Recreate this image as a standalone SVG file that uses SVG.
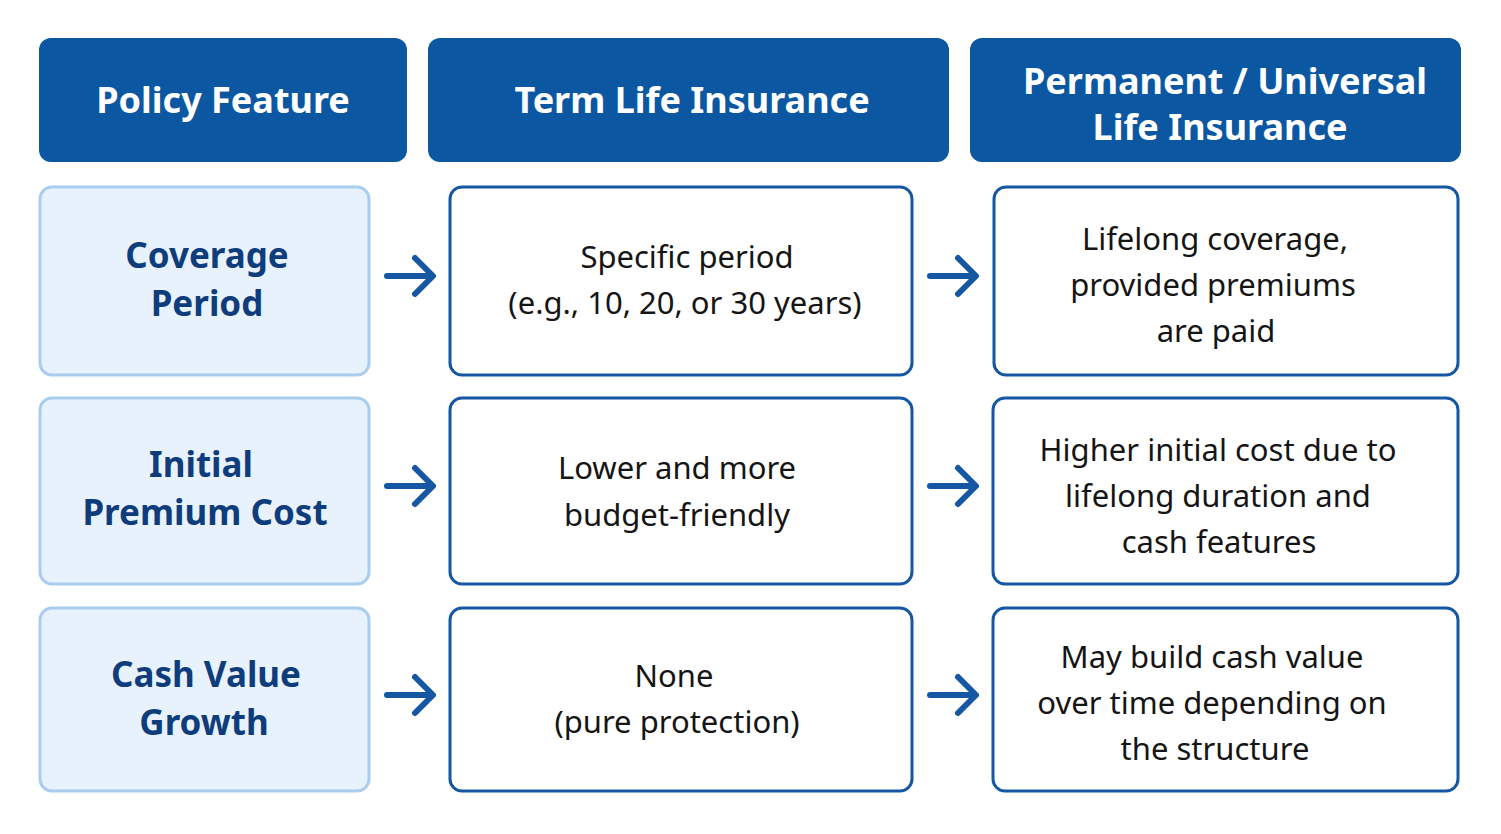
<svg xmlns="http://www.w3.org/2000/svg" width="1501" height="834" viewBox="0 0 1501 834">
<defs>
<style>
.hd{fill:#0b57a2}
.ht{fill:#fff;font-family:"Noto Sans",sans-serif;font-weight:bold;font-size:36px;text-anchor:middle}
.fb{fill:#e8f2fc;stroke:#a8cdee;stroke-width:3}
.ft{fill:#0f3d7c;font-family:"Noto Sans",sans-serif;font-weight:bold;font-size:35px;text-anchor:middle}
.vb{fill:#fff;stroke:#1557a3;stroke-width:3}
.vt{fill:#151515;font-family:"Noto Sans",sans-serif;font-size:31px;text-anchor:middle}
.ar{fill:none;stroke:#1557a3;stroke-width:6;stroke-linecap:round;stroke-linejoin:round}
</style>
</defs>
<rect width="1501" height="834" fill="#fff"/>
<g id="h1"><rect class="hd" x="39" y="38" width="368" height="124" rx="12"/><text class="ht" x="223" y="113">Policy Feature</text></g>
<g id="h2"><rect class="hd" x="428" y="38" width="521" height="124" rx="12"/><text class="ht" x="692" y="113">Term Life Insurance</text></g>
<g id="h3"><rect class="hd" x="970" y="38" width="491" height="124" rx="12"/><text class="ht" x="1225" y="94">Permanent / Universal</text><text class="ht" x="1220" y="140">Life Insurance</text></g>

<g id="f1"><rect class="fb" x="40" y="187" width="329" height="188" rx="12"/><text class="ft" x="207" y="268">Coverage</text><text class="ft" x="207" y="316">Period</text></g>
<g id="f2"><rect class="fb" x="40" y="398" width="329" height="186" rx="12"/><text class="ft" x="201" y="477">Initial</text><text class="ft" x="205" y="525">Premium Cost</text></g>
<g id="f3"><rect class="fb" x="40" y="608" width="329" height="183" rx="12"/><text class="ft" x="206" y="687">Cash Value</text><text class="ft" x="204" y="735">Growth</text></g>

<g id="t1"><rect class="vb" x="450" y="187" width="462" height="188" rx="12"/><text class="vt" x="687" y="268">Specific period</text><text class="vt" x="685" y="314">(e.g., 10, 20, or 30 years)</text></g>
<g id="t2"><rect class="vb" x="450" y="398" width="462" height="186" rx="12"/><text class="vt" x="677" y="479">Lower and more</text><text class="vt" x="677" y="526">budget-friendly</text></g>
<g id="t3"><rect class="vb" x="450" y="608" width="462" height="183" rx="12"/><text class="vt" x="674" y="687">None</text><text class="vt" x="677" y="733">(pure protection)</text></g>

<g id="p1"><rect class="vb" x="994" y="187" width="464" height="188" rx="12"/><text class="vt" x="1215" y="250">Lifelong coverage,</text><text class="vt" x="1213" y="296">provided premiums</text><text class="vt" x="1216" y="342">are paid</text></g>
<g id="p2"><rect class="vb" x="993" y="398" width="465" height="186" rx="12"/><text class="vt" x="1218" y="461">Higher initial cost due to</text><text class="vt" x="1218" y="507">lifelong duration and</text><text class="vt" x="1219" y="553">cash features</text></g>
<g id="p3"><rect class="vb" x="993" y="608" width="465" height="183" rx="12"/><text class="vt" x="1212" y="668">May build cash value</text><text class="vt" x="1212" y="714">over time depending on</text><text class="vt" x="1215" y="760">the structure</text></g>

<g id="connectors">
<path class="ar" d="M387 276H431M415 258L433 276L415 294"/>
<path class="ar" d="M387 486H431M415 468L433 486L415 504"/>
<path class="ar" d="M387 695H431M415 677L433 695L415 713"/>
<path class="ar" d="M930 276H974M958 258L976 276L958 294"/>
<path class="ar" d="M930 486H974M958 468L976 486L958 504"/>
<path class="ar" d="M930 695H974M958 677L976 695L958 713"/>
</g>
</svg>
